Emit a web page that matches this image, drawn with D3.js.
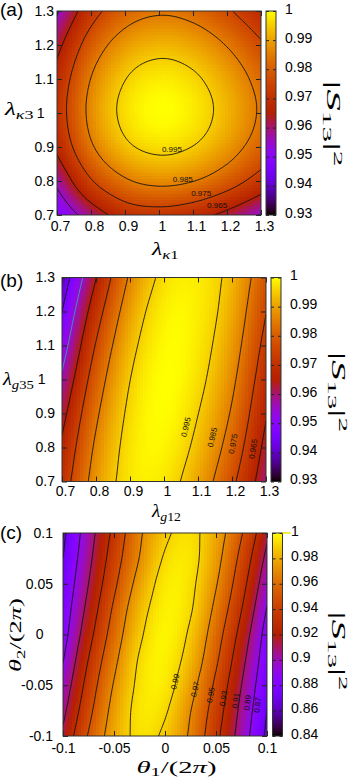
<!DOCTYPE html>
<html>
<head>
<meta charset="utf-8">
<script src="https://cdn.jsdelivr.net/npm/d3@7/dist/d3.min.js"></script>
<style>
  body { margin: 0; background: #fff; }
  svg text { font-family: "Liberation Sans", Arial, sans-serif; }
  svg text.math { font-family: "Liberation Serif", "Times New Roman", serif; }
</style>
</head>
<body>
<svg id="fig" width="354" height="780"></svg>
<script>
// ---- panel (a): |S13|^2 vs lambda_k1 (columns) and lambda_k3 (rows, top to bottom)
const kappa1 = [0.7, 0.8, 0.9, 1.0, 1.1, 1.2, 1.3];
const kappa3 = [1.3, 1.2, 1.1, 1.0, 0.9, 0.8, 0.7];
const s13Kappa = [
  [0.9539, 0.9710, 0.9806, 0.9839, 0.9820, 0.9762, 0.9678],
  [0.9623, 0.9794, 0.9890, 0.9923, 0.9904, 0.9846, 0.9762],
  [0.9681, 0.9852, 0.9948, 0.9981, 0.9962, 0.9904, 0.9820],
  [0.9700, 0.9871, 0.9967, 1.0000, 0.9981, 0.9923, 0.9839],
  [0.9667, 0.9838, 0.9934, 0.9967, 0.9948, 0.9890, 0.9806],
  [0.9571, 0.9742, 0.9838, 0.9871, 0.9852, 0.9794, 0.9710],
  [0.9470, 0.9595, 0.9690, 0.9710, 0.9685, 0.9625, 0.9545]
];

// ---- panel (b): |S13|^2 vs lambda_g12 (columns) and lambda_g35 (rows)
const g12 = [0.7, 0.8, 0.9, 1.0, 1.1, 1.2, 1.3];
const g35 = [1.3, 1.2, 1.1, 1.0, 0.9, 0.8, 0.7];
const s13G = [
  [0.9390, 0.9647, 0.9861, 0.9967, 0.9982, 0.9925, 0.9785],
  [0.9450, 0.9705, 0.9897, 0.9985, 0.9983, 0.9910, 0.9753],
  [0.9505, 0.9756, 0.9926, 0.9995, 0.9978, 0.9890, 0.9722],
  [0.9565, 0.9799, 0.9949, 1.0000, 0.9968, 0.9867, 0.9690],
  [0.9620, 0.9835, 0.9964, 0.9998, 0.9951, 0.9840, 0.9657],
  [0.9665, 0.9864, 0.9973, 0.9990, 0.9930, 0.9807, 0.9625],
  [0.9700, 0.9886, 0.9976, 0.9977, 0.9903, 0.9769, 0.9593]
];

// ---- panel (c): |S13|^2 vs theta1/2pi (columns) and theta2/2pi (rows)
const theta1 = [-0.1, -0.075, -0.05, -0.025, 0, 0.025, 0.05, 0.075, 0.1];
const theta2 = [0.1, 0.075, 0.05, 0.025, 0, -0.025, -0.05, -0.075, -0.1];
const s13Theta = [
  [0.866, 0.901, 0.935, 0.967, 0.987, 0.9932, 0.979, 0.9515, 0.914],
  [0.870, 0.905, 0.940, 0.9705, 0.9915, 0.9942, 0.9758, 0.9443, 0.905],
  [0.874, 0.910, 0.9460, 0.9768, 0.9952, 0.993, 0.9713, 0.9376, 0.897],
  [0.878, 0.916, 0.953, 0.983, 0.9969, 0.9913, 0.9654, 0.9305, 0.889],
  [0.882, 0.9228, 0.959, 0.9873, 0.998, 0.9873, 0.959, 0.9228, 0.882],
  [0.889, 0.9305, 0.9654, 0.9913, 0.9969, 0.983, 0.953, 0.916, 0.878],
  [0.897, 0.9376, 0.9713, 0.993, 0.9952, 0.9768, 0.9460, 0.910, 0.874],
  [0.905, 0.9443, 0.9758, 0.9942, 0.9915, 0.9705, 0.940, 0.905, 0.870],
  [0.914, 0.9515, 0.979, 0.9932, 0.987, 0.967, 0.935, 0.901, 0.866]
];

// ticks and contour levels
const lambdaTicks = [0.7, 0.8, 0.9, 1, 1.1, 1.2, 1.3];
const thetaTicks = [-0.1, -0.05, 0, 0.05, 0.1];
const cbTicksAB = [0.93, 0.94, 0.95, 0.96, 0.97, 0.98, 0.99, 1];
const cbTicksC = [0.84, 0.86, 0.88, 0.9, 0.92, 0.94, 0.96, 0.98, 1];
const levelsAB = [0.945, 0.955, 0.965, 0.975, 0.985, 0.995];
const levelsC = [0.85, 0.87, 0.89, 0.91, 0.93, 0.95, 0.97, 0.99];

// contour label anchors (data coords)
const labelsA = [
  { level: 0.995, x: 1.038, y: 0.894 }, { level: 0.985, x: 1.07, y: 0.806 },
  { level: 0.975, x: 1.124, y: 0.765 }, { level: 0.965, x: 1.171, y: 0.729 }
];
const labelsB = [
  { level: 0.995, x: 1.064, y: 0.86 }, { level: 0.985, x: 1.142, y: 0.83 },
  { level: 0.975, x: 1.203, y: 0.811 }, { level: 0.965, x: 1.262, y: 0.796 }
];
const labelsC = [
  { level: 0.99, x: 0.0098, y: -0.0465 }, { level: 0.97, x: 0.0294, y: -0.054 },
  { level: 0.95, x: 0.0448, y: -0.0596 }, { level: 0.93, x: 0.0572, y: -0.0629 },
  { level: 0.91, x: 0.0693, y: -0.0652 }, { level: 0.89, x: 0.0807, y: -0.0672 },
  { level: 0.87, x: 0.0905, y: -0.0695 }
];

const svg = d3.select("#fig");
const fmt = d => String(d);

// gnuplot default palette (rgbformulae 7,5,15)
const palette = t => {
  t = Math.max(0, Math.min(1, t));
  return d3.rgb(255 * Math.sqrt(t), 255 * t * t * t, 255 * Math.max(0, Math.sin(2 * Math.PI * t))).formatHex();
};

// smooth (catmull-rom) lookup into a value table
function makeSampler(cols, rows, values) {
  const nx = cols.length, ny = rows.length;
  const cx = d3.scaleLinear().domain([cols[0], cols[nx - 1]]).range([0, nx - 1]);
  const cy = d3.scaleLinear().domain([rows[0], rows[ny - 1]]).range([0, ny - 1]);
  const get = (i, j) => {
    if (j < 0) return 2 * get(i, 0) - get(i, 1);
    if (j > ny - 1) return 2 * get(i, ny - 1) - get(i, ny - 2);
    if (i < 0) return 2 * values[j][0] - values[j][1];
    if (i > nx - 1) return 2 * values[j][nx - 1] - values[j][nx - 2];
    return values[j][i];
  };
  const cubic = (p0, p1, p2, p3, t) =>
    p1 + 0.5 * t * (p2 - p0 + t * (2 * p0 - 5 * p1 + 4 * p2 - p3 + t * (3 * (p1 - p2) + p3 - p0)));
  return (x, y) => {
    const u = Math.max(0, Math.min(nx - 1, cx(x))), v = Math.max(0, Math.min(ny - 1, cy(y)));
    const i = Math.min(nx - 2, Math.floor(u)), j = Math.min(ny - 2, Math.floor(v));
    const tu = u - i, tv = v - j;
    const r = [-1, 0, 1, 2].map(k => cubic(get(i - 1, j + k), get(i, j + k), get(i + 1, j + k), get(i + 2, j + k), tu));
    return cubic(r[0], r[1], r[2], r[3], tv);
  };
}

// math-style label, stretched along its direction to a target length
function mathLabel(parts, o) {
  const g = svg.append("g");
  const t = g.append("text").attr("class", "math").attr("font-size", o.fs || 18).attr("fill", "#000");
  parts.forEach(p => {
    const s = t.append("tspan").text(p.t);
    if (p.it) s.attr("font-style", "italic");
    if (p.fs) s.attr("font-size", p.fs);
    if (p.dy) s.attr("dy", p.dy);
  });
  const w = t.node().getBBox().width;
  const shift = o.anchor === "start" ? 0 : -o.w / 2;
  g.attr("transform", `translate(${o.x},${o.y}) rotate(${o.rot || 0}) translate(${shift},0) scale(${o.w / w},1)`);
}
const lam = (s, n) => [{ t: "λ", it: 1 }, { t: s, it: 1, fs: 13, dy: 4 }, { t: n, fs: 13 }];
const theta = n => [{ t: "θ", it: 1 }, { t: n, fs: 12, dy: 3.5 }, { t: "/(2", dy: -3.5 }, { t: "π", it: 1 }, { t: ")" }];
const s13 = [{ t: "|" }, { t: "S", it: 1 }, { t: "13", fs: 13, dy: 4 }, { t: "|", dy: -4 }, { t: "2", fs: 13, dy: -7 }];

const panels = [
  { id: "a", tag: "(a)", tagY: 16, x0: 57, x1: 261, y0: 11, y1: 215,
    cols: kappa1, rows: kappa3, values: s13Kappa, xTicks: lambdaTicks, yTicks: lambdaTicks,
    cbDomain: [0.93, 1], cbTicks: cbTicksAB, cbX: 266, cbLabelX: 285,
    levels: levelsAB, labels: labelsA, rotateLabels: false,
    yGap: 3, xBase: 15.5, xDx: 3,
    xLab: { parts: lam("κ", "1"), x: 166, y: 255, w: 28 },
    yLab: { parts: lam("κ", "3"), x: 5, y: 115, w: 30, anchor: "start" },
    cbLab: { parts: s13, x: 327, y: 123.5, w: 86, rot: 90 } },
  { id: "b", tag: "(b)", tagY: 287, x0: 62, x1: 266, y0: 277.5, y1: 481.5,
    cols: g12, rows: g35, values: s13G, xTicks: lambdaTicks, yTicks: lambdaTicks,
    cbDomain: [0.93, 1], cbTicks: cbTicksAB, cbX: 271, cbLabelX: 290,
    levels: levelsAB, labels: labelsB, rotateLabels: true, highlight: 0.955,
    yGap: 7, xBase: 14.5, xDx: 3,
    xLab: { parts: lam("g", "12"), x: 167, y: 517, w: 30 },
    yLab: { parts: lam("g", "35"), x: 3, y: 385, w: 32, anchor: "start" },
    cbLab: { parts: s13, x: 332, y: 392, w: 80, rot: 90 } },
  { id: "c", tag: "(c)", tagY: 539, x0: 63, x1: 267, y0: 533, y1: 736,
    cols: theta1, rows: theta2, values: s13Theta, xTicks: thetaTicks, yTicks: thetaTicks,
    cbDomain: [0.84, 1], cbTicks: cbTicksC, cbX: 272.5, cbLabelX: 291, topMark: true,
    levels: levelsC, labels: labelsC, rotateLabels: true,
    yGap: 10, xBase: 17, xDx: 0,
    xLab: { parts: theta("1"), x: 176.5, y: 772.5, w: 80, fs: 17 },
    yLab: { parts: theta("2"), x: 21, y: 635, w: 74, rot: -90, fs: 17 },
    cbLab: { parts: s13, x: 332, y: 651, w: 79, rot: 90 } }
];

const tickFont = sel => sel.selectAll("text")
  .attr("font-family", "Liberation Sans, Arial, sans-serif").attr("font-size", 14).attr("fill", "#000");

function drawPanel(p) {
  const g = svg.append("g");
  const xs = d3.scaleLinear().domain(d3.extent(p.xTicks)).range([p.x0, p.x1]);
  const ys = d3.scaleLinear().domain(d3.extent(p.yTicks)).range([p.y1, p.y0]);
  const color = d3.scaleSequential(p.cbDomain, palette);
  const f = makeSampler(p.cols, p.rows, p.values);
  const w = p.x1 - p.x0, h = p.y1 - p.y0;

  g.append("clipPath").attr("id", "clip" + p.id)
    .append("rect").attr("x", p.x0).attr("y", p.y0).attr("width", w).attr("height", h);

  // heat map cells
  const n = 68, cw = w / n, ch = h / n;
  g.append("g").attr("clip-path", `url(#clip${p.id})`).attr("shape-rendering", "crispEdges")
    .selectAll("rect").data(d3.cross(d3.range(n), d3.range(n))).join("rect")
    .attr("x", d => p.x0 + d[0] * cw).attr("y", d => p.y0 + d[1] * ch)
    .attr("width", cw + 0.6).attr("height", ch + 0.6)
    .attr("fill", d => color(f(xs.invert(p.x0 + (d[0] + 0.5) * cw), ys.invert(p.y0 + (d[1] + 0.5) * ch))));

  // contour lines
  const N = 121;
  const [xa, xb] = xs.domain(), [yb, ya] = ys.domain();
  const grid = new Array(N * N);
  for (let j = 0; j < N; j++)
    for (let i = 0; i < N; i++)
      grid[j * N + i] = f(xa + i / (N - 1) * (xb - xa), ya - j / (N - 1) * (ya - yb));
  const toPx = (c, r) => [xs(xa + (c - 0.5) / (N - 1) * (xb - xa)), ys(ya - (r - 0.5) / (N - 1) * (ya - yb))];
  const path = d3.geoPath(d3.geoTransform({
    point(c, r) { const q = toPx(c, r); this.stream.point(q[0], q[1]); }
  }));
  const contours = d3.contours().size([N, N]).thresholds(p.levels)(grid);
  g.append("g").attr("clip-path", `url(#clip${p.id})`)
    .selectAll("path").data(contours).join("path")
    .attr("d", path).attr("fill", "none")
    .attr("stroke", d => p.highlight && Math.abs(d.value - p.highlight) < 1e-9 ? "#33a8b8" : "#111")
    .attr("stroke-width", 0.9);

  // contour labels
  const inside = q => q[0] > p.x0 + 1 && q[0] < p.x1 - 1 && q[1] > p.y0 + 1 && q[1] < p.y1 - 1;
  p.labels.forEach(l => {
    const c = contours.find(d => Math.abs(d.value - l.level) < 1e-9);
    const hx = xs(l.x), hy = ys(l.y);
    let best = null, bd = Infinity;
    if (c) c.coordinates.forEach(poly => poly.forEach(ring => {
      const pts = ring.map(q => toPx(q[0], q[1]));
      pts.forEach((q, k) => {
        const dd = (q[0] - hx) ** 2 + (q[1] - hy) ** 2;
        if (dd < bd && inside(q)) { bd = dd; best = [pts[Math.max(0, k - 2)], pts[Math.min(pts.length - 1, k + 2)]]; }
      });
    }));
    let ang = 0;
    if (p.rotateLabels && best) {
      ang = Math.atan2(best[1][1] - best[0][1], best[1][0] - best[0][0]) * 180 / Math.PI;
      if (ang > 90) ang -= 180;
      if (ang <= -90) ang += 180;
    }
    g.append("text").attr("transform", `translate(${hx},${hy}) rotate(${ang})`)
      .attr("text-anchor", "middle").attr("dy", "0.35em")
      .attr("font-size", 8).attr("fill", "#111").text(fmt(l.level));
  });

  // axes with inward ticks
  g.append("g").attr("color", "#222").attr("transform", `translate(0,${p.y1})`)
    .call(d3.axisBottom(xs).tickValues(p.xTicks).tickFormat(fmt).tickSize(-5).tickPadding(p.xBase - 9.94))
    .call(a => a.select(".domain").remove()).call(tickFont)
    .call(a => a.selectAll("text").attr("dx", p.xDx));
  g.append("g").attr("color", "#222").attr("transform", `translate(0,${p.y0})`)
    .call(d3.axisTop(xs).tickValues(p.xTicks).tickFormat("").tickSize(-5))
    .call(a => a.select(".domain").remove());
  g.append("g").attr("color", "#222").attr("transform", `translate(${p.x0},0)`)
    .call(d3.axisLeft(ys).tickValues(p.yTicks).tickFormat(fmt).tickSize(-5).tickPadding(p.yGap))
    .call(a => a.select(".domain").remove()).call(tickFont)
    .call(a => a.selectAll("text").attr("dx", d => fmt(d).length === 1 ? -9.5 : 0));
  g.append("g").attr("color", "#222").attr("transform", `translate(${p.x1},0)`)
    .call(d3.axisRight(ys).tickValues(p.yTicks).tickFormat("").tickSize(-5))
    .call(a => a.select(".domain").remove());
  g.append("rect").attr("x", p.x0).attr("y", p.y0).attr("width", w).attr("height", h)
    .attr("fill", "none").attr("stroke", "#333").attr("stroke-width", 1);

  // colour box
  const cbW = 10;
  const cbs = d3.scaleLinear().domain(p.cbDomain).range([p.y1, p.y0]);
  const grad = g.append("linearGradient").attr("id", "grad" + p.id)
    .attr("x1", 0).attr("y1", 1).attr("x2", 0).attr("y2", 0);
  d3.range(65).forEach(k => grad.append("stop").attr("offset", k / 64).attr("stop-color", palette(k / 64)));
  g.append("rect").attr("x", p.cbX).attr("y", p.y0).attr("width", cbW).attr("height", h)
    .attr("fill", `url(#grad${p.id})`);
  g.append("g").attr("color", "#222").attr("transform", `translate(${p.cbX + cbW},0)`)
    .call(d3.axisRight(cbs).tickValues(p.cbTicks).tickFormat(fmt).tickSize(-3).tickPadding(p.cbLabelX - p.cbX - cbW))
    .call(a => a.select(".domain").remove()).call(tickFont)
    .call(a => a.selectAll("text").attr("dy", "0.15em"));
  g.append("g").attr("color", "#222").attr("transform", `translate(${p.cbX},0)`)
    .call(d3.axisLeft(cbs).tickValues(p.cbTicks).tickFormat("").tickSize(-3))
    .call(a => a.select(".domain").remove());
  g.append("rect").attr("x", p.cbX).attr("y", p.y0).attr("width", cbW).attr("height", h)
    .attr("fill", "none").attr("stroke", "#333").attr("stroke-width", 1);
  if (p.topMark) {
    g.append("line").attr("x1", p.cbX + cbW).attr("x2", p.cbX + cbW + 8)
      .attr("y1", p.y0).attr("y2", p.y0).attr("stroke", "#f2e600").attr("stroke-width", 1.5);
  }

  // panel tag and axis titles
  svg.append("text").attr("x", 0).attr("y", p.tagY).attr("font-size", 19).attr("fill", "#000").text(p.tag);
  mathLabel(p.xLab.parts, p.xLab);
  mathLabel(p.yLab.parts, p.yLab);
  mathLabel(p.cbLab.parts, p.cbLab);
}

panels.forEach(drawPanel);
</script>
</body>
</html>
